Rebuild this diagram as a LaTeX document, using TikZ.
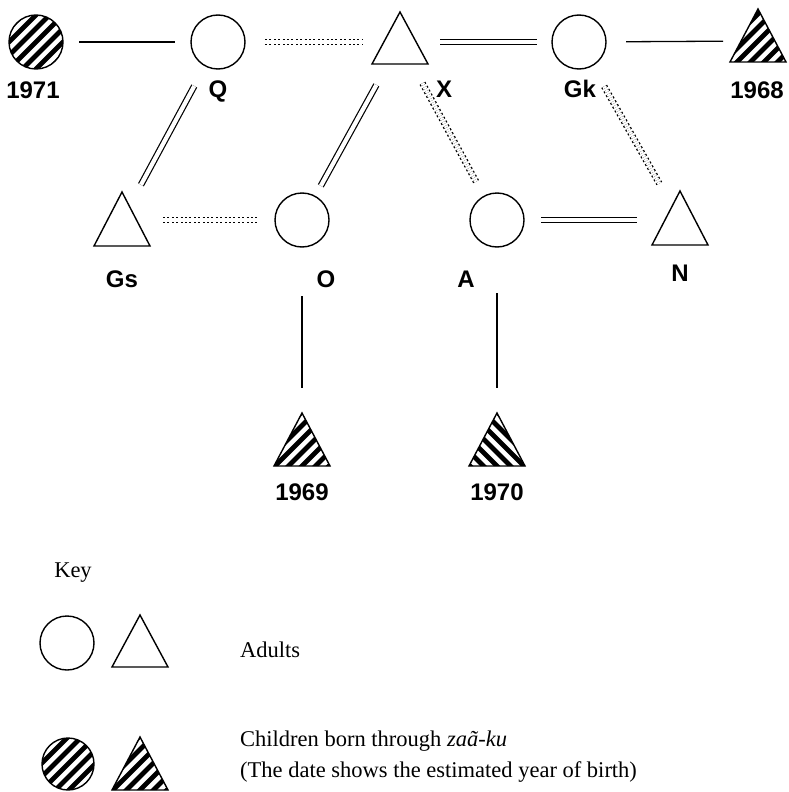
\documentclass[tikz,border=0pt]{standalone}
\usepackage{fontspec}
\setmainfont{Liberation Serif}
\newfontfamily\labfont{Liberation Sans}
\usetikzlibrary{calc}
\newcommand\hatchfill[2]{\foreach \k in {-5,...,5}{\draw[line width=4.8pt] ($(#1)+(\k*13.5-50,#2*50)$) -- ($(#1)+(\k*13.5+50,-#2*50)$);}}
\begin{document}
\begin{tikzpicture}[x=1pt,y=-1pt,
  person/.style={circle, minimum size=54pt, inner sep=0pt},
  adult/.style={person, draw, line width=1.4pt},
  lab/.style={font=\labfont\bfseries\fontsize{24}{24}\selectfont, inner sep=0pt, anchor=base},
  keytext/.style={font=\fontsize{22.5}{22.5}\selectfont, inner sep=0pt, anchor=west},
  outline/.style={line width=1.4pt, line join=miter},
  tri/.style n args={4}{insert path={([shift={(0,-#2)}]#1.center) -- ([shift={(#4,#3)}]#1.center) -- ([shift={(-#4,#3)}]#1.center) -- cycle}},
  solidline/.style={line width=1.3pt},
  dbl/.style={double, double distance=4.2pt, line width=1.2pt},
  dotdbl/.style={double, double distance=4pt, line width=1.3pt, dash pattern=on 2pt off 2.4pt},
]
\useasboundingbox (0,0) rectangle (789,792);

% ---- row 1
\node[person] (c71) at (36,42) {};
\begin{scope}\clip (c71) circle[radius=27pt]; \hatchfill{c71}{1}\end{scope}
\draw[outline] (c71) circle[radius=27pt];
\node[adult] (Q) at (218,42) {};
\node[person] (X) at (400,42) {};
\draw[outline, tri={X}{30}{22}{28}];
\node[adult] (Gk) at (579,42) {};
\node[person] (c68) at (758,41) {};
\begin{scope}\clip[tri={c68}{32}{21}{28}]; \hatchfill{c68}{1}\end{scope}
\draw[outline, tri={c68}{32}{21}{28}];

\node[lab] (l71) at (33,98) {1971};
\node[lab] (lQ) at (218,97) {Q};
\node[lab] (lX) at (444,97) {X};
\node[lab] (lGk) at (580,97) {Gk};
\node[lab] (l68) at (757,98) {1968};

% ---- row 2
\node[person] (Gs) at (122,220) {};
\draw[outline, tri={Gs}{28}{26}{28}];
\node[adult] (O) at (302,220) {};
\node[adult] (A) at (497,220) {};
\node[person] (N) at (680,220) {};
\draw[outline, tri={N}{29}{25}{28}];

\node[lab] (lGs) at (122,287) {Gs};
\node[lab] (lO) at (326,287) {O};
\node[lab] (lA) at (466,287) {A};
\node[lab] (lN) at (680,281) {N};

% ---- children
\node[person] (c69) at (302,439) {};
\begin{scope}\clip[tri={c69}{26}{27}{28}]; \hatchfill{c69}{1}\end{scope}
\draw[outline, tri={c69}{26}{27}{28}];
\node[person] (c70) at (497,439) {};
\begin{scope}\clip[tri={c70}{26}{27}{28}]; \hatchfill{c70}{-1}\end{scope}
\draw[outline, tri={c70}{26}{27}{28}];
\node[lab] (l69) at (302,500) {1969};
\node[lab] (l70) at (497,500) {1970};

% ---- connectors
\draw[solidline] ($(c71)!43pt!(Q)$) -- ($(Q)!43pt!(c71)$);
\draw[dotdbl] ($(Q)!47pt!(X)$) -- ($(X)!38pt!(Q)$);
\draw[dbl] ($(X)!40pt!(Gk)$) -- ($(Gk)!42pt!(X)$);
\draw[solidline] ($(Gk)!47pt!(c68)$) -- ($(c68)!35pt!(Gk)$);
\draw[dbl] ($(Q)!50pt!(Gs)$) -- ($(Gs)!40pt!(Q)$);
\draw[dbl] ($(X)!49pt!(O)$) -- ($(O)!39pt!(X)$);
\draw[dotdbl] ($(X)!47pt!(A)$) -- ($(A)!42pt!(X)$);
\draw[dotdbl] ($(Gk)!51pt!(N)$) -- ($(N)!42pt!(Gk)$);
\draw[dotdbl] ($(Gs)!41pt!(O)$) -- ($(O)!45pt!(Gs)$);
\draw[dbl] ($(A)!44pt!(N)$) -- ($(N)!43pt!(A)$);
\draw[solidline] ($(O)!76pt!(c69)$) -- ($(c69)!51pt!(O)$);
\draw[solidline] ($(A)!73pt!(c70)$) -- ($(c70)!51pt!(A)$);

% ---- key
\node[keytext, anchor=center] (key) at (73,573) {Key};
\node[adult] (k1) at (67,643) {};
\node[person] (k2) at (140,641) {};
\draw[outline, tri={k2}{26}{26}{28}];
\node[keytext] (adults) at (240,650) {Adults};
\node[person] (k3) at (68,764) {};
\begin{scope}\clip (k3) circle[radius=26pt]; \hatchfill{k3}{1}\end{scope}
\draw[outline] (k3) circle[radius=26pt];
\node[person] (k4) at (140,763) {};
\begin{scope}\clip[tri={k4}{26}{27}{28}]; \hatchfill{k4}{1}\end{scope}
\draw[outline, tri={k4}{26}{27}{28}];
\node[keytext] (child) at (240,741) {Children born through \textit{zaã-ku}};
\node[keytext] (date) at (240,772) {(The date shows the estimated year of birth)};
\end{tikzpicture}
\end{document}
